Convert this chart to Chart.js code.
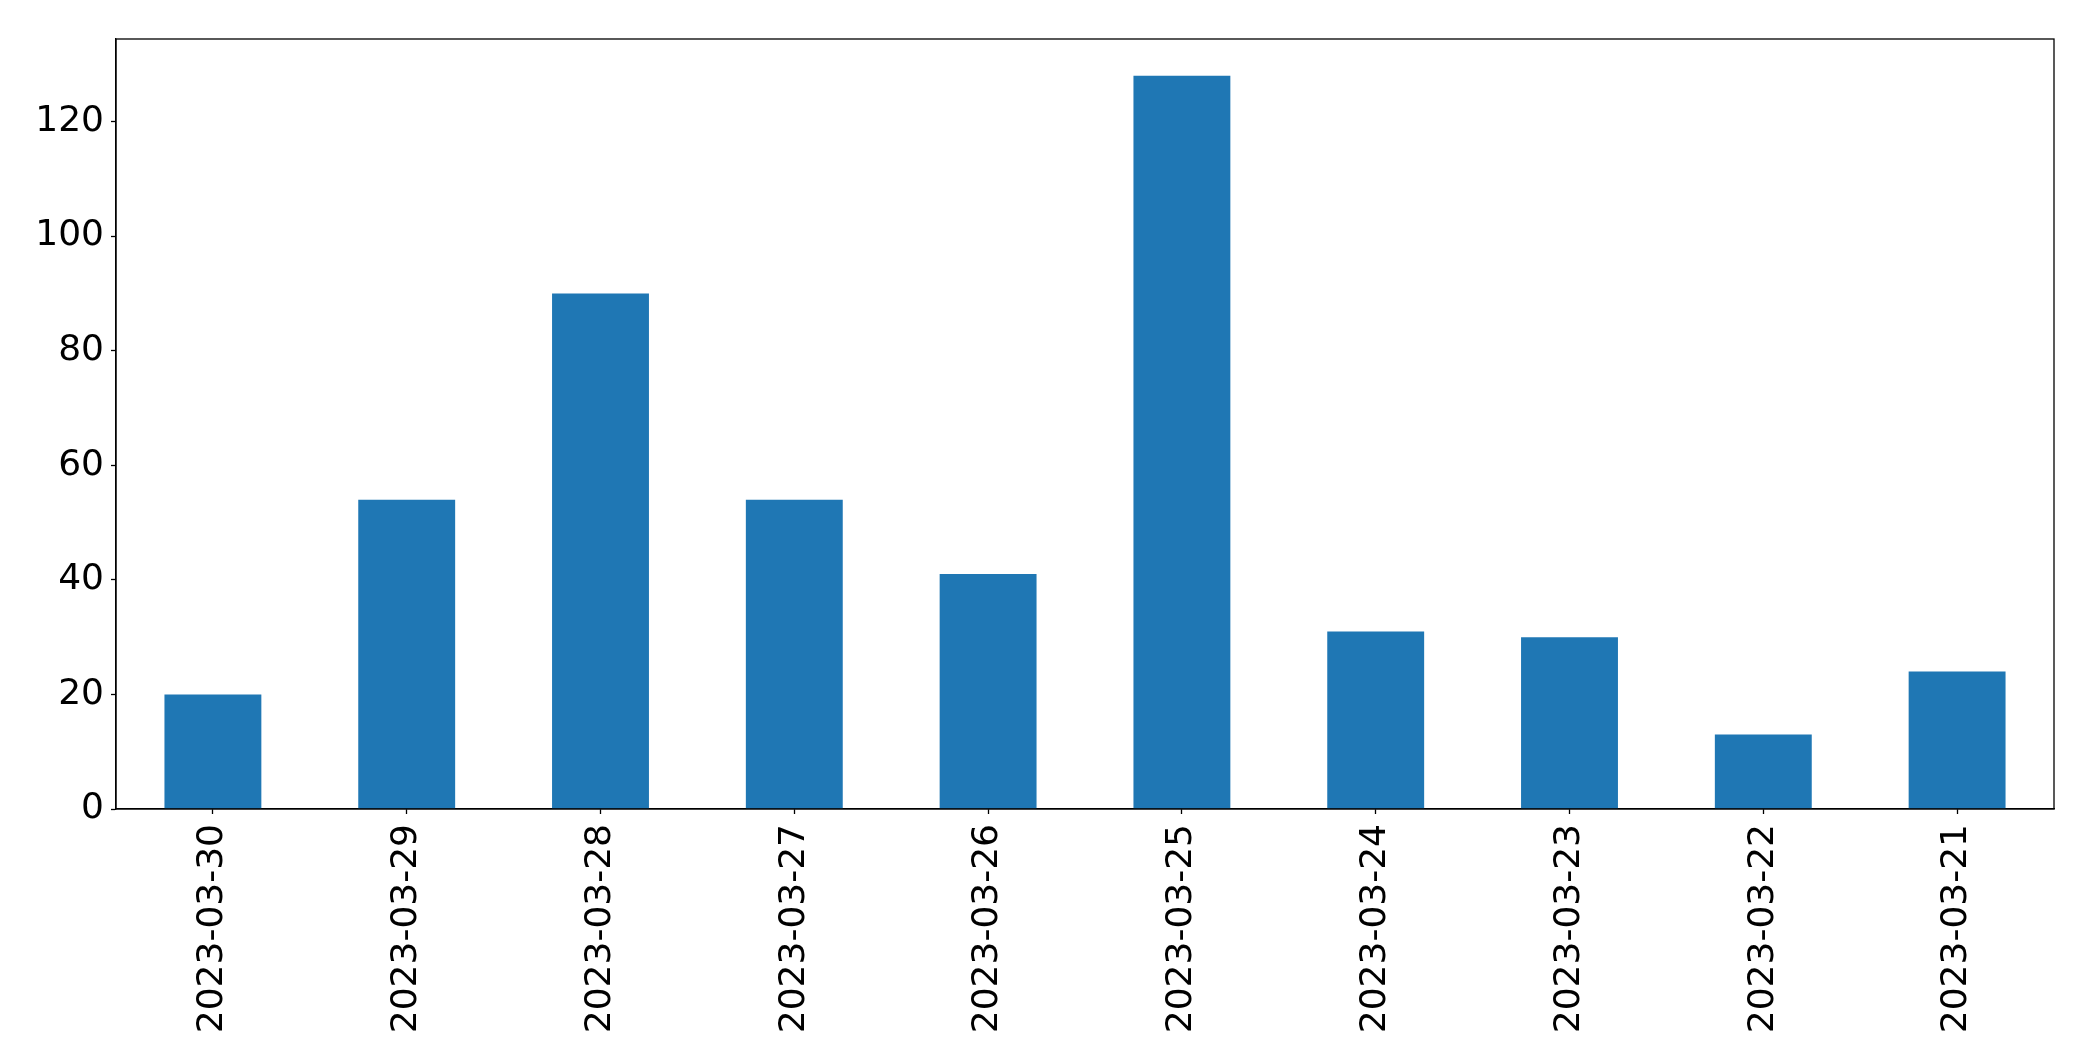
<!DOCTYPE html>
<html>
<head>
<meta charset="utf-8">
<script src="https://cdn.jsdelivr.net/npm/chart.js@4/dist/chart.umd.min.js"></script>
<style>
  html, body { margin: 0; padding: 0; background: #fff; }
  #wrap { width: 2093px; height: 1061px; }
</style>
</head>
<body>
<div id="wrap"><canvas id="myChart" width="2093" height="1061"></canvas></div>
<script>
const categories = ['2023-03-30', '2023-03-29', '2023-03-28', '2023-03-27', '2023-03-26',
                    '2023-03-25', '2023-03-24', '2023-03-23', '2023-03-22', '2023-03-21'];
const counts = [20, 54, 90, 54, 41, 128, 31, 30, 13, 24];
const yTicks = [0, 20, 40, 60, 80, 100, 120];
const yMax = 134.4;

// draws the top and right spines, chart.js only gives us left and bottom
const frame = {
    id: 'frame',
    afterDraw(chart) {
        const a = chart.chartArea;
        const c = chart.ctx;
        c.save();
        c.strokeStyle = '#000';
        c.lineWidth = 1.3;
        c.strokeRect(a.left, a.top, a.right - a.left, a.bottom - a.top);
        c.restore();
    }
};

const ctx = document.getElementById('myChart').getContext('2d');

new Chart(ctx, {
    type: 'bar',
    data: {
        labels: categories,
        datasets: [{
            data: counts,
            backgroundColor: '#1f77b4',
            borderWidth: 0,
            barPercentage: 0.5,
            categoryPercentage: 1.0
        }]
    },
    options: {
        responsive: false,
        animation: false,
        layout: { padding: { left: 0, top: 39, right: 39, bottom: 0 } },
        plugins: {
            legend: { display: false },
            tooltip: { enabled: false }
        },
        scales: {
            x: {
                offset: true,
                grid: { offset: false, drawOnChartArea: false, tickLength: 5, tickColor: '#000', tickWidth: 1.3 },
                border: { color: '#000', width: 1.3 },
                ticks: {
                    color: '#000',
                    font: { family: 'DejaVu Sans', size: 36 },
                    minRotation: 90,
                    maxRotation: 90,
                    padding: 10,
                    autoSkip: false
                },
                afterFit: scale => { scale.height = 252; }
            },
            y: {
                min: 0,
                max: yMax,
                grid: { drawOnChartArea: false, tickLength: 5, tickColor: '#000', tickWidth: 1.3 },
                border: { color: '#000', width: 1.3 },
                ticks: {
                    color: '#000',
                    font: { family: 'DejaVu Sans', size: 36 },
                    padding: 7
                },
                afterBuildTicks: axis => { axis.ticks = yTicks.map(v => ({ value: v })); },
                afterFit: scale => { scale.width = 116; }
            }
        }
    },
    plugins: [frame]
});
</script>
</body>
</html>
